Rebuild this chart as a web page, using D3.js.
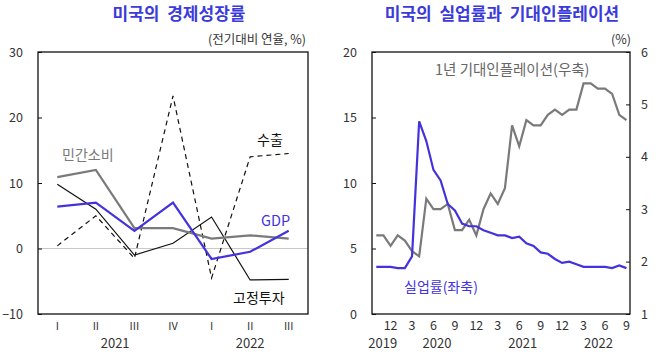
<!DOCTYPE html>
<html>
<head>
<meta charset="utf-8">
<script src="https://cdn.jsdelivr.net/npm/d3@7"></script>
<style>
body { margin: 0; background: #fff; }
svg text { font-family: "Noto Sans CJK KR", "Noto Sans", sans-serif; white-space: pre; }
</style>
</head>
<body>
<svg width="656" height="354"></svg>
<script>
// ============================ DATA ============================
const quarters = ["I", "II", "III", "IV", "I", "II", "III"];
const gdp = [6.4, 7.0, 2.7, 7.0, -1.6, -0.5, 2.7];
const consumption = [10.9, 12.0, 3.1, 3.1, 1.5, 2.0, 1.5];
const investment = [9.8, 6.0, -1.0, 0.8, 4.8, -4.8, -4.7];
const exports = [0.4, 5.0, -1.5, 23.3, -4.5, 14.0, 14.5];
const leftTicks = [-10, 0, 10, 20, 30];

// monthly, Oct 2019 .. Sep 2022
const unemployment = [3.6, 3.6, 3.6, 3.5, 3.5, 4.4, 14.7, 13.2, 11.0, 10.2, 8.4, 7.9,
  6.9, 6.7, 6.7, 6.4, 6.2, 6.0, 6.0, 5.8, 5.9, 5.4, 5.2, 4.7,
  4.6, 4.2, 3.9, 4.0, 3.8, 3.6, 3.6, 3.6, 3.6, 3.5, 3.7, 3.5];
const expInflation = [2.5, 2.5, 2.3, 2.5, 2.4, 2.2, 2.1, 3.2, 3.0, 3.0, 3.1, 2.6,
  2.6, 2.8, 2.5, 3.0, 3.3, 3.1, 3.4, 4.6, 4.2, 4.7, 4.6, 4.6,
  4.8, 4.9, 4.8, 4.9, 4.9, 5.4, 5.4, 5.3, 5.3, 5.2, 4.8, 4.7];
const monthTicks = [2, 5, 8, 11, 14, 17, 20, 23, 26, 29, 32, 35];
const monthLabels = ["12", "3", "6", "9", "12", "3", "6", "9", "12", "3", "6", "9"];
const years = [{ label: "2019", at: 0.9 }, { label: "2020", at: 8.5 }, { label: "2021", at: 20.5 }, { label: "2022", at: 31.1 }];
// ==============================================================

const svg = d3.select("svg");
const blue = "#4433dd";
const titleBlue = "#3b3bdb";
const grey = "#7a7a7a";
const textCol = "#333";

// ---------------------- LEFT CHART ----------------------
const L = { left: 38, right: 308, top: 52, bottom: 314 };
const xq = d3.scalePoint().domain(d3.range(quarters.length)).range([L.left, L.right]).padding(0.5);
const yq = d3.scaleLinear().domain([-10, 30]).range([L.bottom, L.top]);

svg.append("text").attr("x", 179).attr("y", 20).attr("text-anchor", "middle")
  .attr("font-size", 17).attr("font-weight", "bold").attr("fill", titleBlue).text("미국의  경제성장률");
svg.append("text").attr("x", 306).attr("y", 44).attr("text-anchor", "end")
  .attr("font-size", 12.5).attr("fill", textCol).text("(전기대비 연율, %)");

// zero line
svg.append("line").attr("x1", L.left).attr("x2", L.right).attr("y1", yq(0)).attr("y2", yq(0))
  .attr("stroke", "#c8c8c8").attr("stroke-width", 1);

const lineQ = arr => d3.line().x((d, i) => xq(i)).y(d => yq(d))(arr);

svg.append("path").attr("d", lineQ(exports)).attr("fill", "none").attr("stroke", "#111")
  .attr("stroke-width", 1.2).attr("stroke-dasharray", "5,4");
svg.append("path").attr("d", lineQ(investment)).attr("fill", "none").attr("stroke", "#111").attr("stroke-width", 1.2);
svg.append("path").attr("d", lineQ(consumption)).attr("fill", "none").attr("stroke", grey).attr("stroke-width", 2.2);
svg.append("path").attr("d", lineQ(gdp)).attr("fill", "none").attr("stroke", blue).attr("stroke-width", 2.2);

svg.append("rect").attr("x", L.left).attr("y", L.top).attr("width", L.right - L.left).attr("height", L.bottom - L.top)
  .attr("fill", "none").attr("stroke", "#111").attr("stroke-width", 1.3);

const yAxisL = svg.append("g").attr("transform", `translate(${L.left},0)`)
  .call(d3.axisRight(yq).tickValues(leftTicks).tickSize(4).tickFormat(d3.format("d")));
yAxisL.select(".domain").remove();
yAxisL.selectAll("line").attr("stroke", "#111");
yAxisL.selectAll("text").attr("x", -15).attr("text-anchor", "end").attr("font-size", 12.5).attr("fill", textCol);

svg.append("g").selectAll("text").data(quarters).join("text")
  .attr("x", (d, i) => xq(i)).attr("y", 330).attr("text-anchor", "middle")
  .attr("font-size", 11).attr("fill", textCol).text(d => d);
svg.append("text").attr("x", (xq(1) + xq(2)) / 2).attr("y", 348).attr("text-anchor", "middle")
  .attr("font-size", 13).attr("fill", textCol).text("2021");
svg.append("text").attr("x", xq(5)).attr("y", 348).attr("text-anchor", "middle")
  .attr("font-size", 13).attr("fill", textCol).text("2022");

svg.append("text").attr("x", 62).attr("y", 160).attr("font-size", 14).attr("fill", grey).text("민간소비");
svg.append("text").attr("x", 257).attr("y", 145).attr("font-size", 14).attr("fill", "#111").text("수출");
svg.append("text").attr("x", 261).attr("y", 226).attr("font-size", 14.5).attr("fill", blue).text("GDP");
svg.append("text").attr("x", 233).attr("y", 303).attr("font-size", 14).attr("fill", "#111").text("고정투자");

// ---------------------- RIGHT CHART ----------------------
const R = { left: 372, right: 630, top: 52, bottom: 314 };
const xm = d3.scaleLinear().domain([-0.6, 35.5]).range([R.left, R.right]);
const yl = d3.scaleLinear().domain([0, 20]).range([R.bottom, R.top]);
const yr = d3.scaleLinear().domain([1, 6]).range([R.bottom, R.top]);

svg.append("text").attr("x", 502).attr("y", 20).attr("text-anchor", "middle")
  .attr("font-size", 17).attr("font-weight", "bold").attr("fill", titleBlue).text("미국의  실업률과  기대인플레이션");
svg.append("text").attr("x", 631).attr("y", 44).attr("text-anchor", "end")
  .attr("font-size", 12.5).attr("fill", textCol).text("(%)");

svg.append("path").attr("d", d3.line().x((d, i) => xm(i)).y(d => yr(d))(expInflation))
  .attr("fill", "none").attr("stroke", grey).attr("stroke-width", 2.2);
svg.append("path").attr("d", d3.line().x((d, i) => xm(i)).y(d => yl(d))(unemployment))
  .attr("fill", "none").attr("stroke", blue).attr("stroke-width", 2.2);

svg.append("rect").attr("x", R.left).attr("y", R.top).attr("width", R.right - R.left).attr("height", R.bottom - R.top)
  .attr("fill", "none").attr("stroke", "#111").attr("stroke-width", 1.3);

const yAxisRL = svg.append("g").attr("transform", `translate(${R.left},0)`)
  .call(d3.axisRight(yl).ticks(4).tickSize(4));
yAxisRL.select(".domain").remove();
yAxisRL.selectAll("line").attr("stroke", "#111");
yAxisRL.selectAll("text").attr("x", -15).attr("text-anchor", "end").attr("font-size", 12.5).attr("fill", textCol);

const yAxisRR = svg.append("g").attr("transform", `translate(${R.right},0)`)
  .call(d3.axisLeft(yr).ticks(5).tickSize(4));
yAxisRR.select(".domain").remove();
yAxisRR.selectAll("line").attr("stroke", "#111");
yAxisRR.selectAll("text").attr("x", 11).attr("text-anchor", "start").attr("font-size", 12.5).attr("fill", textCol);

svg.append("g").selectAll("text").data(monthTicks).join("text")
  .attr("x", d => xm(d)).attr("y", 330).attr("text-anchor", "middle")
  .attr("font-size", 12.5).attr("fill", textCol).text((d, i) => monthLabels[i]);
svg.append("g").selectAll("text").data(years).join("text")
  .attr("x", d => xm(d.at)).attr("y", 348).attr("text-anchor", "middle")
  .attr("font-size", 13).attr("fill", textCol).text(d => d.label);

svg.append("text").attr("x", 435).attr("y", 75).attr("font-size", 14.5).attr("fill", "#666").text("1년 기대인플레이션(우축)");
svg.append("text").attr("x", 404).attr("y", 292).attr("font-size", 14).attr("fill", blue).text("실업률(좌축)");
</script>
</body>
</html>
